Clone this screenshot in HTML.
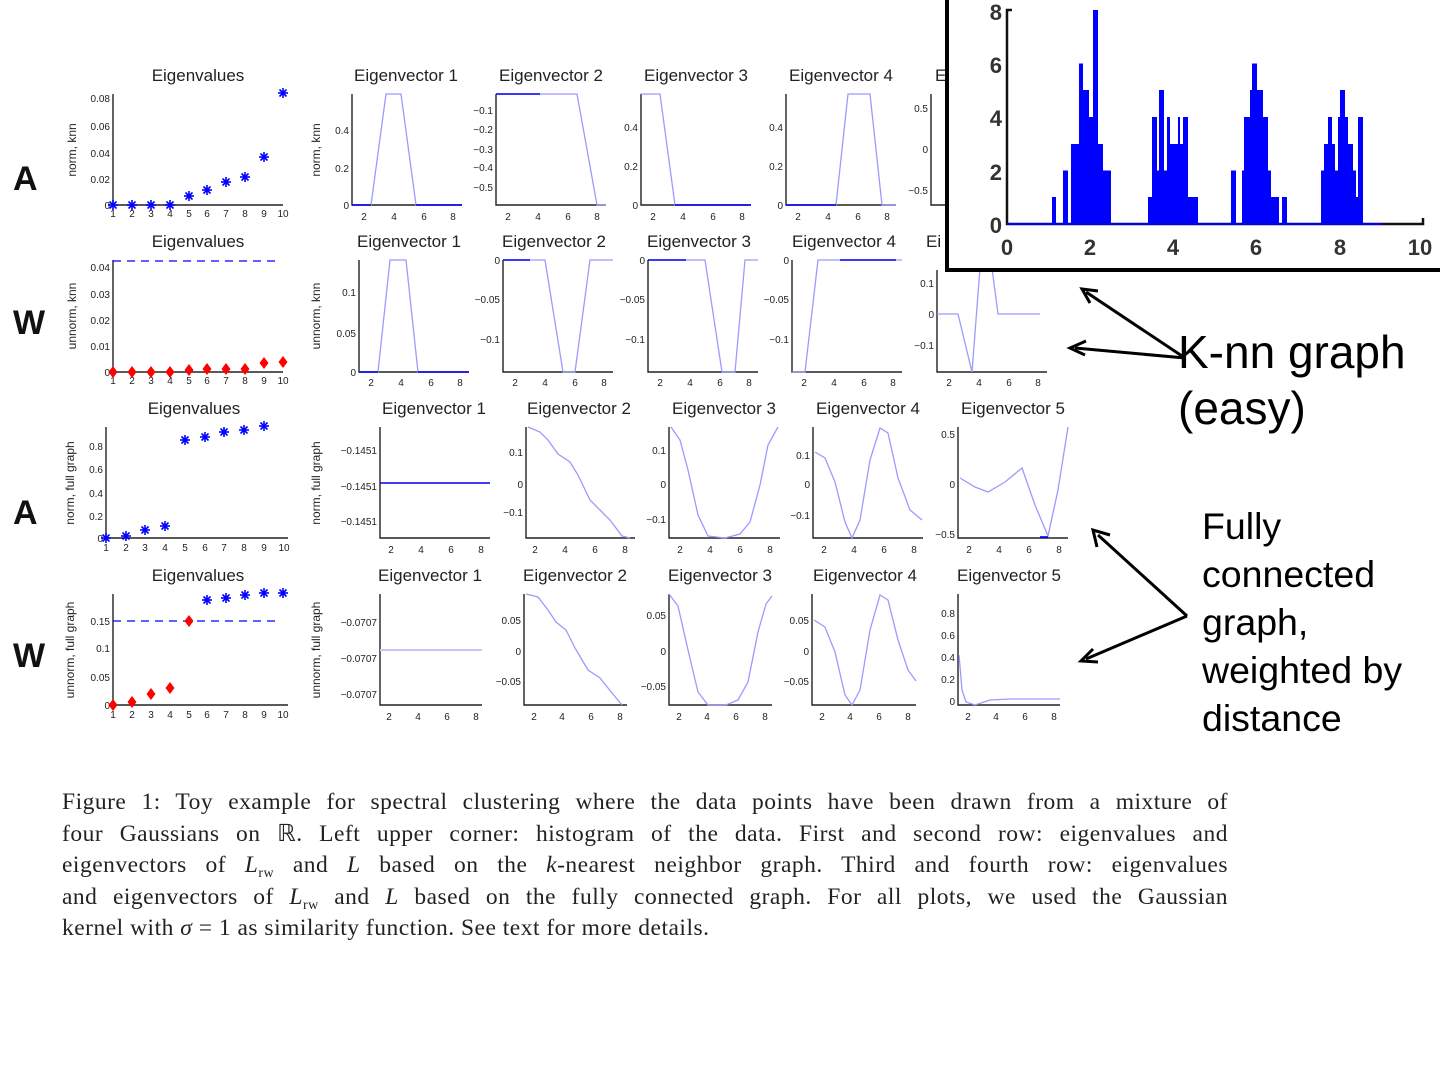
<!DOCTYPE html>
<html><head><meta charset="utf-8"><style>
body{margin:0;width:1440px;height:1080px;background:#fff;position:relative;overflow:hidden;font-family:"Liberation Sans",sans-serif}
svg{position:absolute;left:0;top:0}
.cap{position:absolute;left:62px;top:787px;width:1166px;font-family:"Liberation Serif",serif;font-size:23.5px;letter-spacing:0.5px;color:#222;line-height:31.5px}
.cap div{height:31.5px;text-align:justify;text-align-last:justify;white-space:nowrap}
.cap div.l{text-align-last:left}
.cap sub{font-size:14px;line-height:0;vertical-align:baseline;position:relative;top:5px}
</style></head><body>
<svg width="1440" height="1080" viewBox="0 0 1440 1080" font-family="Liberation Sans, sans-serif">
<defs>
<g id="ast" stroke="#0000ff" stroke-width="1.6"><line x1="-5" y1="0" x2="5" y2="0"/><line x1="0" y1="-5" x2="0" y2="5"/><line x1="-3.5" y1="-3.5" x2="3.5" y2="3.5"/><line x1="-3.5" y1="3.5" x2="3.5" y2="-3.5"/></g>
<polygon id="dia" points="0,-6 4.5,0 0,6 -4.5,0" fill="#ff0000"/>
</defs>
<g font-size="17" fill="#222" text-anchor="middle">
<text x="198" y="81">Eigenvalues</text><text x="406" y="81">Eigenvector 1</text><text x="551" y="81">Eigenvector 2</text><text x="696" y="81">Eigenvector 3</text><text x="841" y="81">Eigenvector 4</text><text x="935" y="81" text-anchor="start">Ei</text>
<text x="198" y="247">Eigenvalues</text><text x="409" y="247">Eigenvector 1</text><text x="554" y="247">Eigenvector 2</text><text x="699" y="247">Eigenvector 3</text><text x="844" y="247">Eigenvector 4</text><text x="926" y="247" text-anchor="start">Ei</text>
<text x="194" y="414">Eigenvalues</text><text x="434" y="414">Eigenvector 1</text><text x="579" y="414">Eigenvector 2</text><text x="724" y="414">Eigenvector 3</text><text x="868" y="414">Eigenvector 4</text><text x="1013" y="414">Eigenvector 5</text>
<text x="198" y="581">Eigenvalues</text><text x="430" y="581">Eigenvector 1</text><text x="575" y="581">Eigenvector 2</text><text x="720" y="581">Eigenvector 3</text><text x="865" y="581">Eigenvector 4</text><text x="1009" y="581">Eigenvector 5</text>
</g>
<g font-size="12" fill="#222" text-anchor="middle">
<text transform="translate(76,150) rotate(-90)">norm, knn</text>
<text transform="translate(76,316) rotate(-90)">unnorm, knn</text>
<text transform="translate(74,483) rotate(-90)">norm, full graph</text>
<text transform="translate(74,650) rotate(-90)">unnorm, full graph</text>
<text transform="translate(320,150) rotate(-90)">norm, knn</text>
<text transform="translate(320,316) rotate(-90)">unnorm, knn</text>
<text transform="translate(320,483) rotate(-90)">norm, full graph</text>
<text transform="translate(320,650) rotate(-90)">unnorm, full graph</text>
</g>
<g font-weight="bold" font-size="34" fill="#111"><text x="13" y="190">A</text><text x="13" y="334">W</text><text x="13" y="524">A</text><text x="13" y="667">W</text></g>
<g fill="none" stroke="#222" stroke-width="1.4">
<path d="M113 94V205H283"/><path d="M352 94V205H462"/><path d="M496 94V205H606"/><path d="M641 94V205H751"/><path d="M786 94V205H896"/><path d="M931 94V205H946"/>
<path d="M113 260V372H283"/><path d="M359 260V372H469"/><path d="M503 260V372H613"/><path d="M648 260V372H758"/><path d="M792 260V372H902"/><path d="M937 270V372H1047"/>
<path d="M106 427V538H288"/><path d="M380 427V538H490"/><path d="M526 427V538H635"/><path d="M669 427V538H780"/><path d="M813 427V538H923"/><path d="M958 427V538H1068"/>
<path d="M113 594V705H288"/><path d="M380 594V705H482"/><path d="M524 594V705H627"/><path d="M669 594V705H772"/><path d="M812 594V705H916"/><path d="M958 594V705H1060"/>
</g>
<g font-size="10" fill="#222" text-anchor="end">
<text x="110" y="102">0.08</text><text x="110" y="130">0.06</text><text x="110" y="157">0.04</text><text x="110" y="183">0.02</text><text x="110" y="209">0</text>
<text x="349" y="134">0.4</text><text x="349" y="172">0.2</text><text x="349" y="209">0</text>
<text x="493" y="114">−0.1</text><text x="493" y="133">−0.2</text><text x="493" y="153">−0.3</text><text x="493" y="171">−0.4</text><text x="493" y="191">−0.5</text>
<text x="638" y="131">0.4</text><text x="638" y="170">0.2</text><text x="638" y="209">0</text>
<text x="783" y="131">0.4</text><text x="783" y="170">0.2</text><text x="783" y="209">0</text>
<text x="928" y="112">0.5</text><text x="928" y="153">0</text><text x="928" y="194">−0.5</text>
<text x="110" y="271">0.04</text><text x="110" y="298">0.03</text><text x="110" y="324">0.02</text><text x="110" y="350">0.01</text><text x="110" y="376">0</text>
<text x="356" y="296">0.1</text><text x="356" y="337">0.05</text><text x="356" y="376">0</text>
<text x="500" y="264">0</text><text x="500" y="303">−0.05</text><text x="500" y="343">−0.1</text>
<text x="645" y="264">0</text><text x="645" y="303">−0.05</text><text x="645" y="343">−0.1</text>
<text x="789" y="264">0</text><text x="789" y="303">−0.05</text><text x="789" y="343">−0.1</text>
<text x="934" y="287">0.1</text><text x="934" y="318">0</text><text x="934" y="349">−0.1</text>
<text x="103" y="450">0.8</text><text x="103" y="473">0.6</text><text x="103" y="497">0.4</text><text x="103" y="520">0.2</text><text x="103" y="542">0</text>
<text x="377" y="454">−0.1451</text><text x="377" y="490">−0.1451</text><text x="377" y="525">−0.1451</text>
<text x="523" y="456">0.1</text><text x="523" y="488">0</text><text x="523" y="516">−0.1</text>
<text x="666" y="454">0.1</text><text x="666" y="488">0</text><text x="666" y="523">−0.1</text>
<text x="810" y="459">0.1</text><text x="810" y="488">0</text><text x="810" y="519">−0.1</text>
<text x="955" y="438">0.5</text><text x="955" y="488">0</text><text x="955" y="538">−0.5</text>
<text x="110" y="625">0.15</text><text x="110" y="652">0.1</text><text x="110" y="681">0.05</text><text x="110" y="709">0</text>
<text x="377" y="626">−0.0707</text><text x="377" y="662">−0.0707</text><text x="377" y="698">−0.0707</text>
<text x="521" y="624">0.05</text><text x="521" y="655">0</text><text x="521" y="685">−0.05</text>
<text x="666" y="619">0.05</text><text x="666" y="655">0</text><text x="666" y="690">−0.05</text>
<text x="809" y="624">0.05</text><text x="809" y="655">0</text><text x="809" y="685">−0.05</text>
<text x="955" y="617">0.8</text><text x="955" y="639">0.6</text><text x="955" y="661">0.4</text><text x="955" y="683">0.2</text><text x="955" y="705">0</text>
</g>
<g font-size="10" fill="#222" text-anchor="middle">
<g transform="translate(0,217)"><text x="113">1</text><text x="132">2</text><text x="151">3</text><text x="170">4</text><text x="189">5</text><text x="207">6</text><text x="226">7</text><text x="245">8</text><text x="264">9</text><text x="283">10</text></g>
<g transform="translate(0,384)"><text x="113">1</text><text x="132">2</text><text x="151">3</text><text x="170">4</text><text x="189">5</text><text x="207">6</text><text x="226">7</text><text x="245">8</text><text x="264">9</text><text x="283">10</text></g>
<g transform="translate(0,551)"><text x="106">1</text><text x="126">2</text><text x="145">3</text><text x="165">4</text><text x="185">5</text><text x="205">6</text><text x="224">7</text><text x="244">8</text><text x="264">9</text><text x="284">10</text></g>
<g transform="translate(0,718)"><text x="113">1</text><text x="132">2</text><text x="151">3</text><text x="170">4</text><text x="189">5</text><text x="207">6</text><text x="226">7</text><text x="245">8</text><text x="264">9</text><text x="283">10</text></g>
<g transform="translate(352,220)"><text x="12">2</text><text x="42">4</text><text x="72">6</text><text x="101">8</text></g>
<g transform="translate(496,220)"><text x="12">2</text><text x="42">4</text><text x="72">6</text><text x="101">8</text></g>
<g transform="translate(641,220)"><text x="12">2</text><text x="42">4</text><text x="72">6</text><text x="101">8</text></g>
<g transform="translate(786,220)"><text x="12">2</text><text x="42">4</text><text x="72">6</text><text x="101">8</text></g>
<g transform="translate(359,386)"><text x="12">2</text><text x="42">4</text><text x="72">6</text><text x="101">8</text></g>
<g transform="translate(503,386)"><text x="12">2</text><text x="42">4</text><text x="72">6</text><text x="101">8</text></g>
<g transform="translate(648,386)"><text x="12">2</text><text x="42">4</text><text x="72">6</text><text x="101">8</text></g>
<g transform="translate(792,386)"><text x="12">2</text><text x="42">4</text><text x="72">6</text><text x="101">8</text></g>
<g transform="translate(937,386)"><text x="12">2</text><text x="42">4</text><text x="72">6</text><text x="101">8</text></g>
<g transform="translate(380,553)"><text x="11">2</text><text x="41">4</text><text x="71">6</text><text x="101">8</text></g>
<g transform="translate(526,553)"><text x="9">2</text><text x="39">4</text><text x="69">6</text><text x="99">8</text></g>
<g transform="translate(669,553)"><text x="11">2</text><text x="41">4</text><text x="71">6</text><text x="101">8</text></g>
<g transform="translate(813,553)"><text x="11">2</text><text x="41">4</text><text x="71">6</text><text x="101">8</text></g>
<g transform="translate(958,553)"><text x="11">2</text><text x="41">4</text><text x="71">6</text><text x="101">8</text></g>
<g transform="translate(380,720)"><text x="9">2</text><text x="38">4</text><text x="67">6</text><text x="96">8</text></g>
<g transform="translate(524,720)"><text x="10">2</text><text x="38">4</text><text x="67">6</text><text x="96">8</text></g>
<g transform="translate(669,720)"><text x="10">2</text><text x="38">4</text><text x="67">6</text><text x="96">8</text></g>
<g transform="translate(812,720)"><text x="10">2</text><text x="38">4</text><text x="67">6</text><text x="96">8</text></g>
<g transform="translate(958,720)"><text x="10">2</text><text x="38">4</text><text x="67">6</text><text x="96">8</text></g>
</g>
<g fill="none" stroke="#9a9aff" stroke-width="1.3">
<polyline points="352,205 371,205 386,94 401,94 416,205 462,205"/>
<polyline points="496,94 577,94 597,205 606,205"/>
<polyline points="641,94 660,94 675,205 751,205"/>
<polyline points="786,205 836,205 848,94 870,94 882,205 896,205"/>
<polyline points="359,372 378,372 390,260 406,260 418,372 469,372"/>
<polyline points="503,260 545,260 563,372 575,372 590,260 613,260"/>
<polyline points="648,260 705,260 722,372 735,372 745,260 758,260"/>
<polyline points="792,372 805,372 818,260 902,260"/>
<polyline points="937,314 958,314 972,372 980,268 992,268 998,314 1040,314"/>
<polyline points="528,427 540,432 548,440 558,454 570,462 578,475 590,500 600,510 610,520 622,536 630,538"/>
<polyline points="671,427 680,440 688,470 698,515 708,536 725,538 740,534 750,522 760,485 768,445 778,427"/>
<polyline points="815,452 825,458 835,482 845,522 852,538 860,520 870,460 880,428 888,433 898,478 910,510 922,520"/>
<polyline points="960,478 975,487 988,492 1005,482 1022,468 1035,505 1048,536 1058,490 1068,427"/>
<polyline points="380,650 482,650" stroke="#c4c4ff" stroke-width="2"/>
<polyline points="526,594 538,597 548,610 556,622 566,630 575,648 588,670 600,678 612,693 622,705"/>
<polyline points="669,594 678,606 688,650 698,692 708,705 726,705 738,700 748,682 758,632 766,604 772,596"/>
<polyline points="814,620 825,627 835,652 845,695 852,705 860,690 870,630 880,595 888,600 898,640 908,670 916,681"/>
<polyline points="959,655 962,690 966,702 975,705 990,700 1010,699 1060,699"/>
</g>
<g stroke="#0000ee" stroke-width="1.6">
<line x1="496" y1="94" x2="540" y2="94"/><line x1="380" y1="483" x2="490" y2="483"/><line x1="503" y1="260" x2="530" y2="260"/><line x1="648" y1="260" x2="686" y2="260"/><line x1="840" y1="260" x2="896" y2="260"/>
<line x1="352" y1="205" x2="371" y2="205"/><line x1="416" y1="205" x2="462" y2="205"/><line x1="675" y1="205" x2="751" y2="205"/><line x1="786" y1="205" x2="836" y2="205"/>
<line x1="359" y1="372" x2="378" y2="372"/><line x1="418" y1="372" x2="469" y2="372"/><line x1="1048" y1="537" x2="1040" y2="537"/>
</g>
<g>
<use href="#ast" x="113" y="205"/><use href="#ast" x="132" y="205"/><use href="#ast" x="151" y="205"/><use href="#ast" x="170" y="205"/><use href="#ast" x="189" y="196"/><use href="#ast" x="207" y="190"/><use href="#ast" x="226" y="182"/><use href="#ast" x="245" y="177"/><use href="#ast" x="264" y="157"/><use href="#ast" x="283" y="93"/>
<line x1="113" y1="261" x2="280" y2="261" stroke="#0000ff" stroke-width="1.3" stroke-dasharray="8,6"/>
<use href="#dia" x="113" y="372"/><use href="#dia" x="132" y="372"/><use href="#dia" x="151" y="372"/><use href="#dia" x="170" y="372"/><use href="#dia" x="189" y="370"/><use href="#dia" x="207" y="369"/><use href="#dia" x="226" y="369"/><use href="#dia" x="245" y="369"/><use href="#dia" x="264" y="363"/><use href="#dia" x="283" y="362"/>
<use href="#ast" x="106" y="538"/><use href="#ast" x="126" y="536"/><use href="#ast" x="145" y="530"/><use href="#ast" x="165" y="526"/><use href="#ast" x="185" y="440"/><use href="#ast" x="205" y="437"/><use href="#ast" x="224" y="432"/><use href="#ast" x="244" y="430"/><use href="#ast" x="264" y="426"/>
<line x1="113" y1="621" x2="280" y2="621" stroke="#0000ff" stroke-width="1.3" stroke-dasharray="8,6"/>
<use href="#dia" x="113" y="705"/><use href="#dia" x="132" y="702"/><use href="#dia" x="151" y="694"/><use href="#dia" x="170" y="688"/><use href="#dia" x="189" y="621"/>
<use href="#ast" x="207" y="600"/><use href="#ast" x="226" y="598"/><use href="#ast" x="245" y="595"/><use href="#ast" x="264" y="593"/><use href="#ast" x="283" y="593"/>
</g>
<rect x="947" y="-4" width="497" height="274" fill="#fff" stroke="#000" stroke-width="4"/>
<g fill="#0000ff">
<rect x="1052" y="197" width="4" height="27"/><rect x="1063" y="170.5" width="5" height="54"/>
<rect x="1071" y="144" width="8" height="80"/><rect x="1079" y="63.5" width="4" height="161"/><rect x="1083" y="90" width="6" height="134"/><rect x="1089" y="117" width="4" height="107"/><rect x="1093" y="10" width="5" height="214"/><rect x="1098" y="144" width="5" height="80"/><rect x="1103" y="170.5" width="8" height="54"/>
<rect x="1148" y="197" width="4" height="27"/><rect x="1152" y="117" width="5" height="107"/><rect x="1157" y="170.5" width="2" height="54"/><rect x="1159" y="90" width="5" height="134"/><rect x="1164" y="170.5" width="3" height="54"/><rect x="1167" y="117" width="3" height="107"/><rect x="1170" y="144" width="8" height="80"/><rect x="1178" y="117" width="2" height="107"/><rect x="1180" y="144" width="3" height="80"/><rect x="1183" y="117" width="5" height="107"/><rect x="1188" y="197" width="10" height="27"/>
<rect x="1231" y="170.5" width="5" height="54"/><rect x="1242" y="170.5" width="2" height="54"/><rect x="1244" y="117" width="6" height="107"/><rect x="1250" y="90" width="2" height="134"/><rect x="1252" y="63.5" width="5" height="161"/><rect x="1257" y="90" width="6" height="134"/><rect x="1263" y="117" width="5" height="107"/><rect x="1268" y="170.5" width="3" height="54"/><rect x="1271" y="197" width="8" height="27"/><rect x="1282" y="197" width="5" height="27"/>
<rect x="1321" y="170.5" width="3" height="54"/><rect x="1324" y="144" width="4" height="80"/><rect x="1328" y="117" width="4" height="107"/><rect x="1332" y="144" width="3" height="80"/><rect x="1335" y="170.5" width="3" height="54"/><rect x="1338" y="117" width="2" height="107"/><rect x="1340" y="90" width="5" height="134"/><rect x="1345" y="117" width="3" height="107"/><rect x="1348" y="144" width="5" height="80"/><rect x="1353" y="170.5" width="3" height="54"/><rect x="1356" y="197" width="2" height="27"/><rect x="1358" y="117" width="5" height="107"/>
</g>
<path d="M1012 10H1007V224H1423V218" fill="none" stroke="#111" stroke-width="2.5"/>
<line x1="1007" y1="224" x2="1382" y2="224" stroke="#0000ff" stroke-width="2"/>
<g font-size="22" font-weight="bold" fill="#333" text-anchor="end">
<text x="1002" y="20">8</text><text x="1002" y="73">6</text><text x="1002" y="126">4</text><text x="1002" y="180">2</text><text x="1002" y="233">0</text>
</g>
<g font-size="22" font-weight="bold" fill="#333" text-anchor="middle">
<text x="1007" y="255">0</text><text x="1090" y="255">2</text><text x="1173" y="255">4</text><text x="1256" y="255">6</text><text x="1340" y="255">8</text><text x="1420" y="255">10</text>
</g>
<g font-size="46" fill="#000"><text x="1178" y="368">K-nn graph</text><text x="1178" y="424">(easy)</text></g>
<g font-size="37.5" fill="#000"><text x="1202" y="539">Fully</text><text x="1202" y="587">connected</text><text x="1202" y="635">graph,</text><text x="1202" y="683">weighted by</text><text x="1202" y="731">distance</text></g>
<g stroke="#000" stroke-width="3" fill="none">
<line x1="1185" y1="358" x2="1086" y2="292"/><line x1="1185" y1="358" x2="1075" y2="348"/>
<line x1="1187" y1="616" x2="1098" y2="535"/><line x1="1187" y1="616" x2="1086" y2="659"/>
<path d="M1098 291L1082 289L1090 303"/><path d="M1086 341L1070 348L1085 355"/><path d="M1097 547L1093 530L1110 535"/><path d="M1093 649L1081 661L1098 662"/>
</g>
</svg>
<div class="cap">
<div>Figure 1: Toy example for spectral clustering where the data points have been drawn from a mixture of</div>
<div>four Gaussians on ℝ. Left upper corner: histogram of the data. First and second row: eigenvalues and</div>
<div>eigenvectors of <i>L</i><sub>rw</sub> and <i>L</i> based on the <i>k</i>-nearest neighbor graph. Third and fourth row: eigenvalues</div>
<div>and eigenvectors of <i>L</i><sub>rw</sub> and <i>L</i> based on the fully connected graph. For all plots, we used the Gaussian</div>
<div class="l">kernel with <i>σ</i> = 1 as similarity function. See text for more details.</div>
</div>
</body></html>
